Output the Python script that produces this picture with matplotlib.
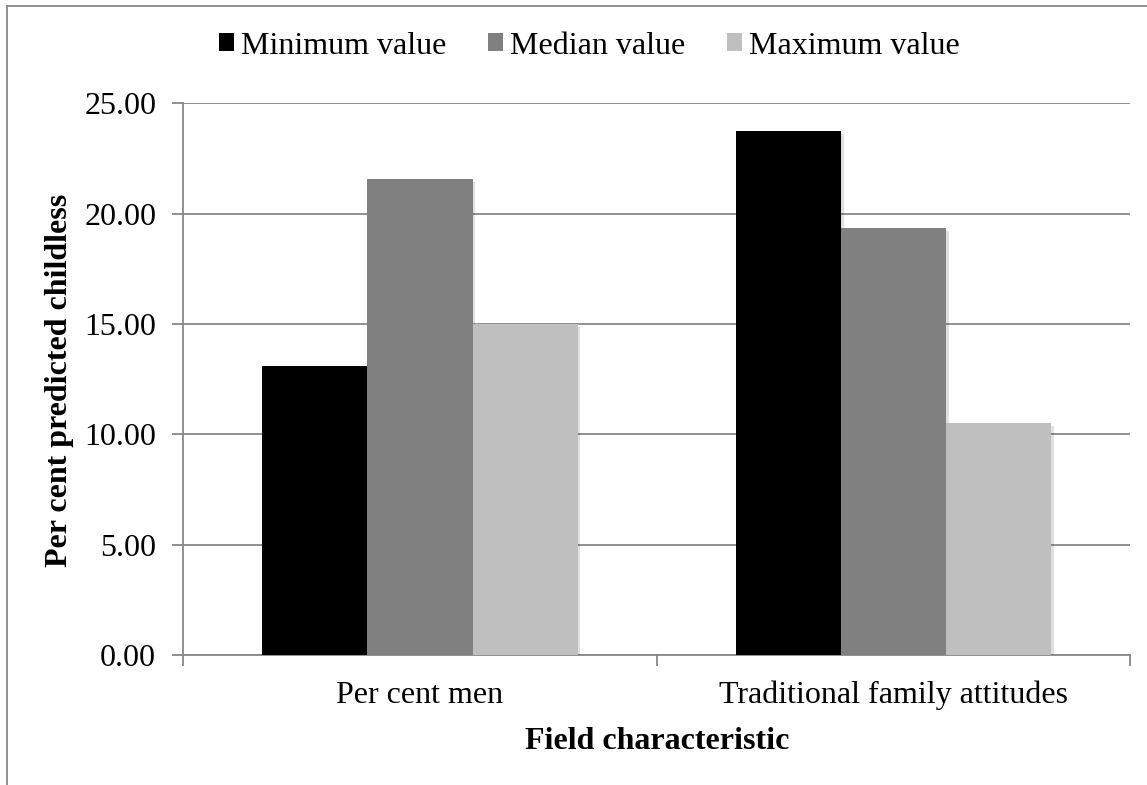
import numpy as np
import matplotlib
matplotlib.use("Agg")
import matplotlib.pyplot as plt
from matplotlib.patches import Patch
from matplotlib.lines import Line2D
import matplotlib.patheffects as pe

categories = ["Per cent men", "Traditional family attitudes"]
series_names = ["Minimum value", "Median value", "Maximum value"]
minimum_vals = [13.09, 23.75]
median_vals = [21.56, 19.36]
maximum_vals = [15.00, 10.50]
yticks = [0, 5, 10, 15, 20, 25]

colors = ["#000000", "#808080", "#BFBFBF"]
grid_col = "#888888"

plt.rcParams['font.family'] = ['Liberation Serif', 'DejaVu Serif']

W, H = 1147, 785
fig = plt.figure(figsize=(W / 100, H / 100), dpi=100)
ax = fig.add_axes([183.3 / W, 1 - 655 / H, (1130 - 183.3) / W, (655 - 103.3) / H])

x = np.arange(len(categories))
bw = 0.222
series = [minimum_vals, median_vals, maximum_vals]
shadow = [pe.SimplePatchShadow(offset=(2, -2), shadow_rgbFace="#000000", alpha=0.12), pe.Normal()]
for i, (vals, c) in enumerate(zip(series, colors)):
    bars = ax.bar(x + (i - 1) * bw, vals, width=bw, color=c, zorder=3, linewidth=0)
    for b in bars:
        b.set_path_effects(shadow)

ax.set_xlim(-0.5, 1.5)
ax.set_ylim(0, 25)
ax.set_yticks(yticks)
ax.set_yticklabels([f"{v:.2f}" for v in yticks])
ax.yaxis.grid(True, color=grid_col, linewidth=1.3, zorder=0)
ax.set_axisbelow(True)

ax.set_xticks([-0.5, 0.5, 1.5])
ax.set_xticklabels([])
ax.set_xticks(x, minor=True)
ax.set_xticklabels(categories, minor=True)
ax.tick_params(axis='x', which='major', direction='out', length=8, width=1.3, color=grid_col)
ax.tick_params(axis='x', which='minor', length=0, pad=18.5, labelsize=23)
ax.tick_params(axis='y', direction='out', length=8, width=1.3, color=grid_col, pad=11.5, labelsize=23)

for s in ['top', 'right']:
    ax.spines[s].set_visible(False)
for s in ['left', 'bottom']:
    ax.spines[s].set_color(grid_col)
    ax.spines[s].set_linewidth(1.3)

fig.text(60 / W, 1 - 380 / H, "Per cent predicted childless", rotation=90,
         ha='center', va='center', fontsize=23, fontweight='bold')
fig.text(656.7 / W, 1 - 749 / H, "Field characteristic", ha='center', va='baseline',
         fontsize=23, fontweight='bold')

handles = [Patch(facecolor=c, edgecolor='none') for c in colors]
fig.legend(handles, series_names, loc='center', bbox_to_anchor=(589.5 / W, 1 - 46 / H),
           ncol=3, frameon=False, fontsize=23, handlelength=0.47, handleheight=0.47,
           handletextpad=0.22, columnspacing=1.3, borderpad=0, borderaxespad=0)

# chart area border
fig.add_artist(Line2D([6.5 / W, 6.5 / W], [0, 1 - 5.5 / H], color=grid_col, linewidth=1.3, transform=fig.transFigure))
fig.add_artist(Line2D([6.5 / W, 1], [1 - 5.5 / H, 1 - 5.5 / H], color=grid_col, linewidth=1.3, transform=fig.transFigure))

fig.savefig("out.png", dpi=100)
